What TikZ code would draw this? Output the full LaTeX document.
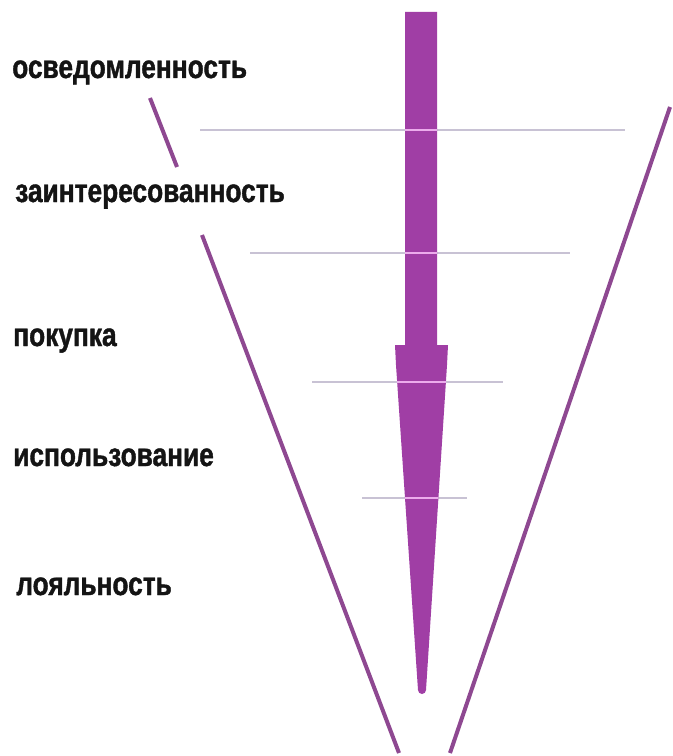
\documentclass[tikz,border=0pt]{standalone}
\usepackage{fontspec}
\newfontfamily\lab[FakeStretch=0.805,FakeBold=1.2]{Liberation Sans}
\definecolor{funnelc}{RGB}{142,72,145}
\definecolor{arrowc}{RGB}{160,62,165}
\definecolor{levelc}{RGB}{200,194,212}
\definecolor{levelin}{RGB}{236,172,236}
\definecolor{textc}{RGB}{20,20,20}
\newcommand\funnelarrow{(405,12) -- (437,12) -- (437,345) -- (448,345) -- (447,365) -- (426,690) arc[start angle=0,end angle=180,radius=4] -- (396,365) -- (395,345) -- (405,345) -- cycle}
\begin{document}
\begin{tikzpicture}[x=0.75pt,y=-0.75pt,
  lbl/.style={anchor=base west, inner sep=0pt, text=textc, font=\lab\bfseries\fontsize{24.5}{28}\selectfont},
  funnelline/.style={draw=funnelc, line width=3pt},
  levelline/.style={draw=levelc, line width=1.3pt},
  levelcross/.style={draw=levelin, line width=1.5pt}]
\useasboundingbox (0,0) rectangle (672,756);
\fill[white] (0,0) rectangle (672,756);
% labels
\node[lbl] (t1) at (12,78) {осведомленность};
\node[lbl] (t2) at (15,202) {заинтересованность};
\node[lbl] (t3) at (13,346) {покупка};
\node[lbl] (t4) at (13,466) {использование};
\node[lbl] (t5) at (16,595) {лояльность};
% funnel sides
\coordinate (l1) at (150,98);
\coordinate (l2) at (177,167);
\coordinate (l3) at (202,235);
\coordinate (l4) at (399,753);
\coordinate (r1) at (670,107);
\coordinate (r2) at (450,753);
\draw[funnelline] (l1) -- (l2);
\draw[funnelline] (l3) -- (l4);
\draw[funnelline] (r1) -- (r2);
% level lines
\coordinate (a1) at (200,130); \coordinate (b1) at (625,130);
\coordinate (a2) at (250,253); \coordinate (b2) at (570,253);
\coordinate (a3) at (312,382); \coordinate (b3) at (503,382);
\coordinate (a4) at (362,498); \coordinate (b4) at (467,498);
\foreach \i in {1,2,3,4} {\draw[levelline] (a\i) -- (b\i);}
% arrow
\fill[arrowc] \funnelarrow;
\begin{scope}
\clip \funnelarrow;
\foreach \i in {1,2,3,4} {\draw[levelcross] (a\i) -- (b\i);}
\end{scope}
\end{tikzpicture}
\end{document}
